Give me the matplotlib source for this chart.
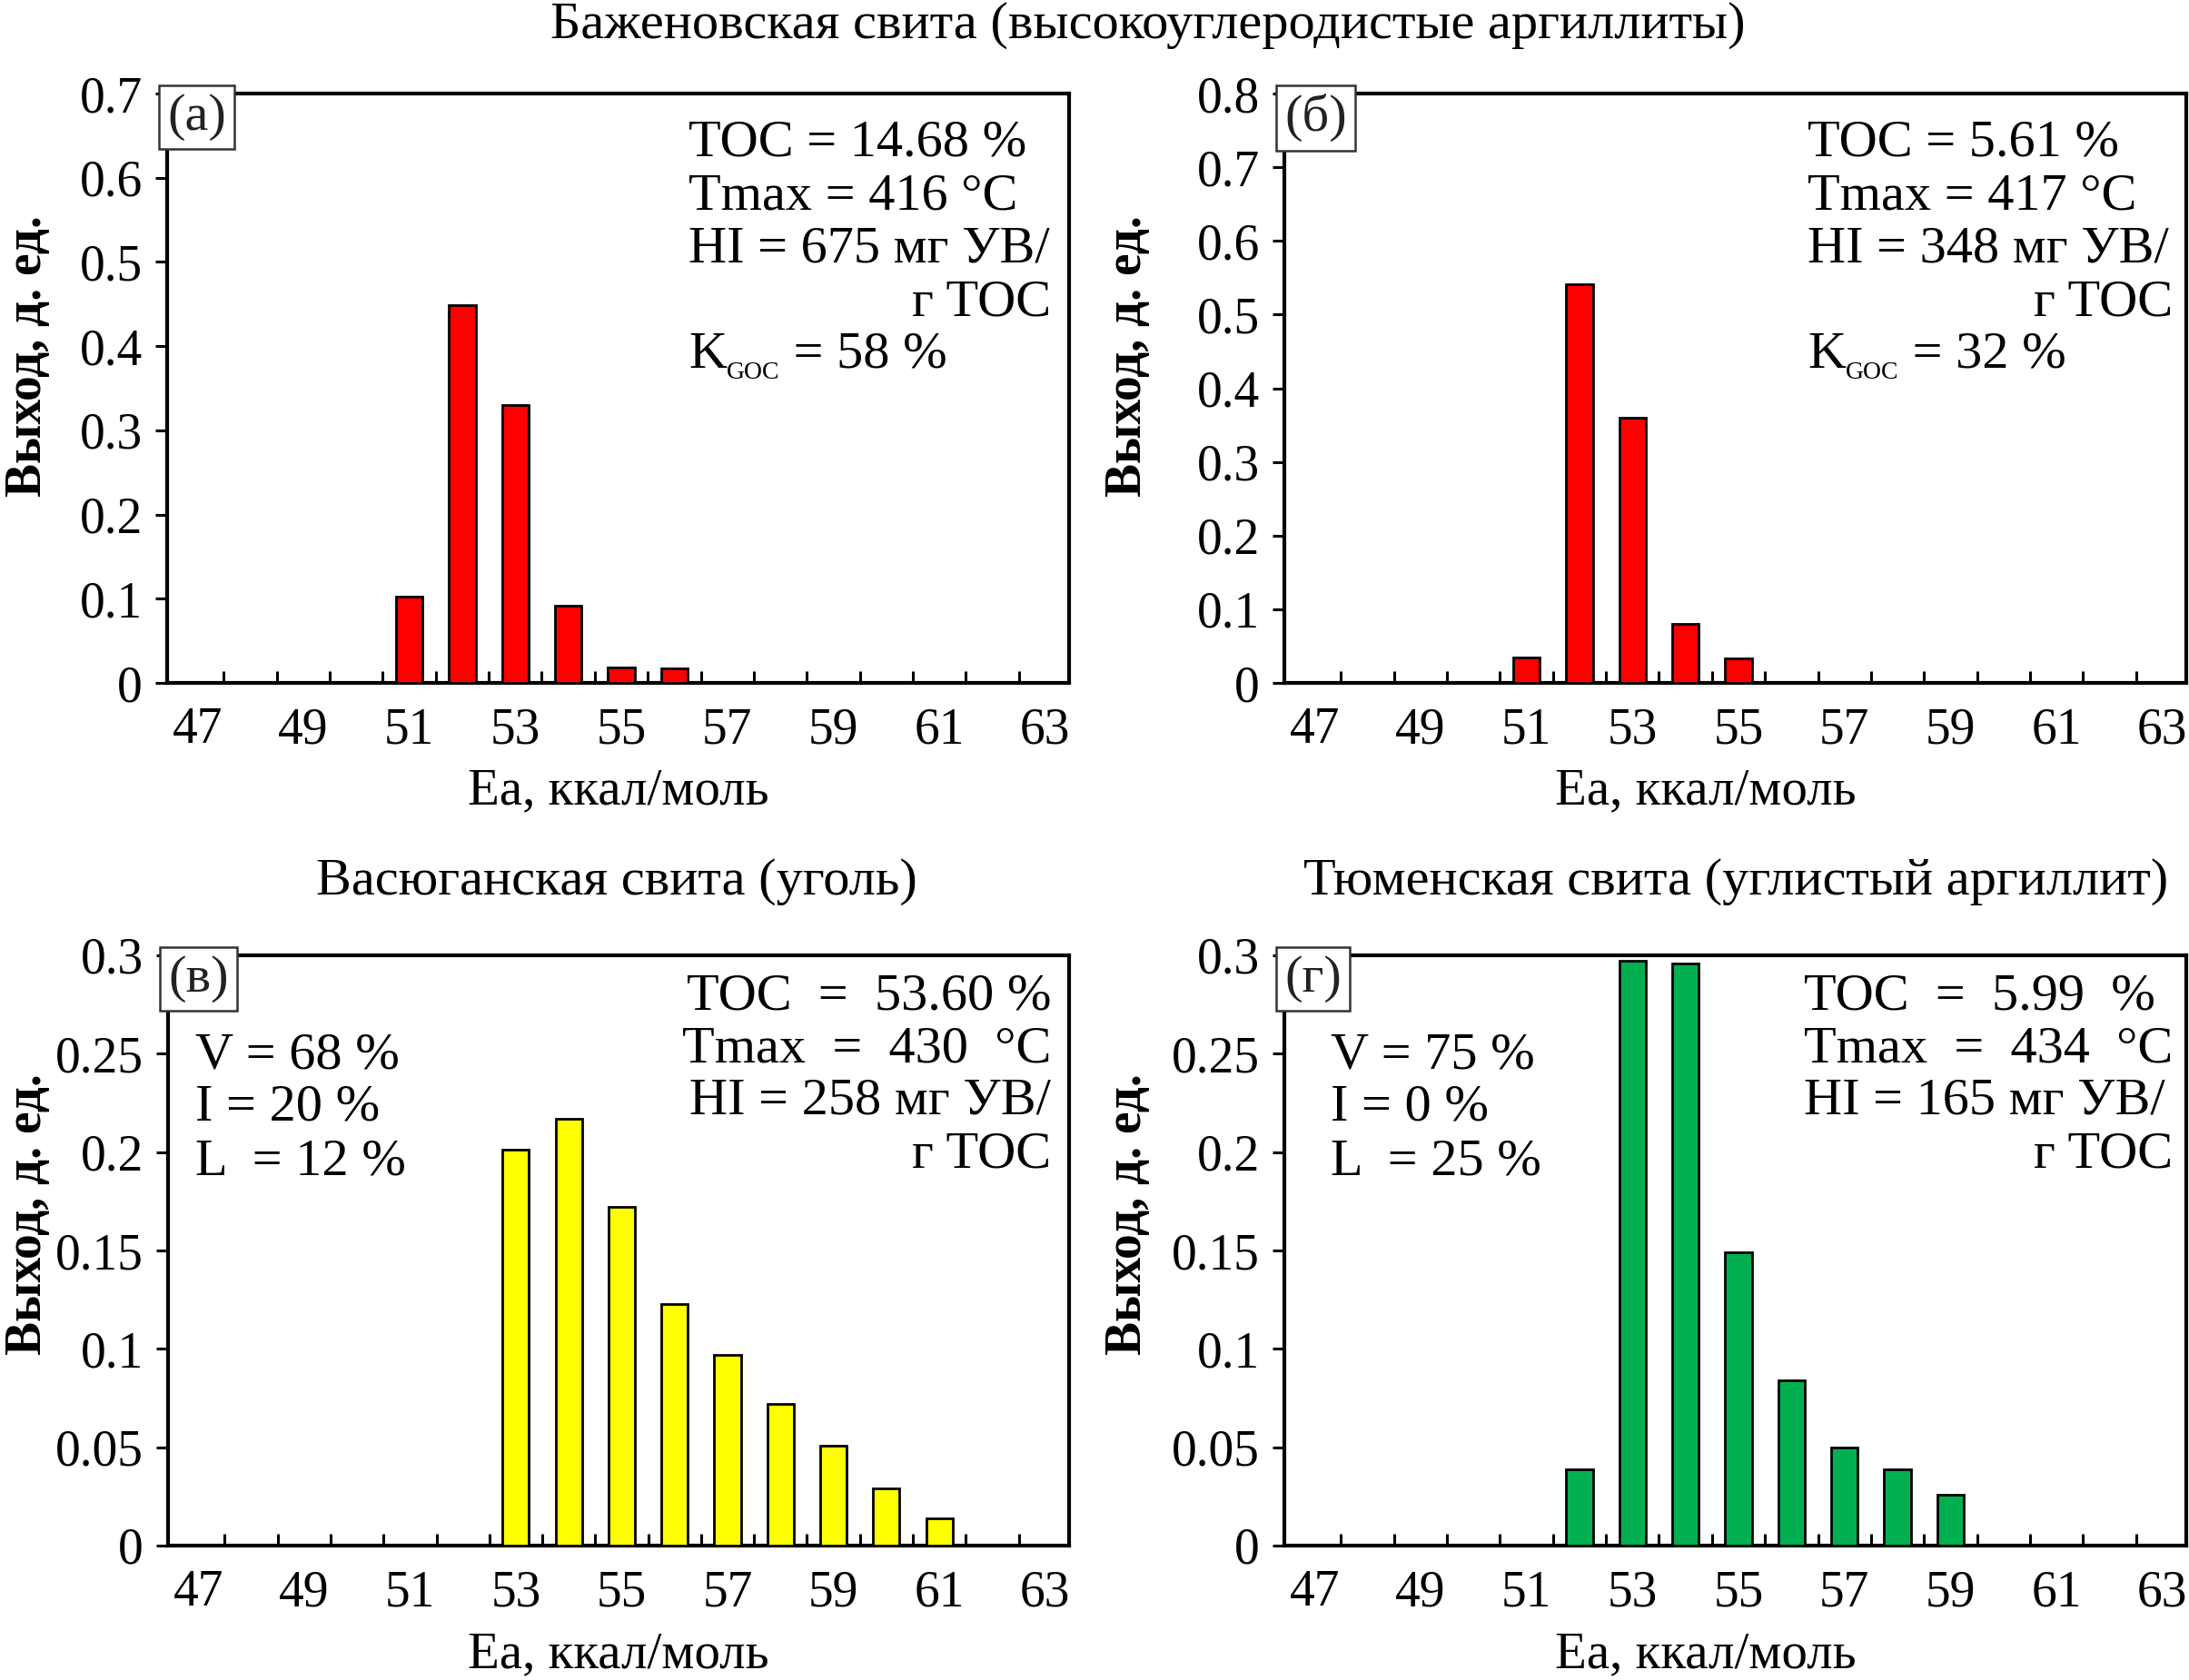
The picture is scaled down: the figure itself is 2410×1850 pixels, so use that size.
import matplotlib
matplotlib.use("Agg")
import matplotlib.pyplot as plt
from matplotlib.ticker import FixedLocator, FuncFormatter

plt.rcParams['font.family'] = ['Liberation Serif', 'DejaVu Serif']

# ---------------- data ----------------
ea_a = [51, 52, 53, 54, 55, 56]
yield_a = [0.103, 0.449, 0.330, 0.092, 0.018, 0.017]

ea_b = [51, 52, 53, 54, 55]
yield_b = [0.034, 0.541, 0.360, 0.080, 0.033]

ea_c = [53, 54, 55, 56, 57, 58, 59, 60, 61]
yield_c = [0.201, 0.217, 0.172, 0.123, 0.097, 0.072, 0.051, 0.029, 0.014]

ea_d = [52, 53, 54, 55, 56, 57, 58, 59]
yield_d = [0.039, 0.297, 0.296, 0.149, 0.084, 0.050, 0.039, 0.026]

xtick_labels = [47, 49, 51, 53, 55, 57, 59, 61, 63]
yticks_ab = [[0, 0.1, 0.2, 0.3, 0.4, 0.5, 0.6, 0.7],
             [0, 0.1, 0.2, 0.3, 0.4, 0.5, 0.6, 0.7, 0.8]]
yticks_cd = [0, 0.05, 0.1, 0.15, 0.2, 0.25, 0.3]

title_top = "Баженовская свита (высокоуглеродистые аргиллиты)"
title_c = "Васюганская свита (уголь)"
title_d = "Тюменская свита (углистый аргиллит)"
xlabel = "Ea, ккал/моль"
ylabel = "Выход, д. ед."

W, H = 2410, 1850
fig = plt.figure(figsize=(W / 100, H / 100), dpi=100)

def fx(px):
    return px / W

def fy(py):
    return 1 - py / H

FS = 40      # tick labels
FT = 42      # annotations / titles

def make_ax(x0, x1, ytop, ybot):
    ax = fig.add_axes([fx(x0), fy(ybot), fx(x1) - fx(x0), fy(ytop) - fy(ybot)])
    for s in ax.spines.values():
        s.set_linewidth(3.0)
    return ax

def style_ax(ax, yt, ymax):
    ax.set_xlim(46.43, 63.45)
    ax.set_ylim(0, ymax)
    ax.xaxis.set_major_locator(FixedLocator(xtick_labels))
    ax.xaxis.set_minor_locator(FixedLocator([v + 0.5 for v in range(47, 63)]))
    ax.set_xticklabels([str(v) for v in xtick_labels])
    ax.tick_params(axis='x', which='major', length=0, pad=19, labelsize=FS)
    ax.tick_params(axis='x', which='minor', direction='in', length=9.5, width=2.2)
    ax.yaxis.set_major_locator(FixedLocator(yt))
    ax.yaxis.set_major_formatter(FuncFormatter(lambda v, p: "%g" % v))
    ax.tick_params(axis='y', which='major', direction='out', length=9.5, width=2.2,
                   pad=10, labelsize=FS)

def bars(ax, x, y, color):
    ax.bar(x, y, width=0.5, color=color, edgecolor='black', linewidth=2.0, zorder=3)

def panel_label(ax, s):
    ax.text(0.0, 1.0, s, transform=ax.transAxes, ha='left', va='top', fontsize=FT,
            color='#222222',
            bbox=dict(boxstyle='square,pad=0.16', fc='white', ec='#333333', lw=1.8),
            zorder=5)

def info_block(ax, x_left, x_right, lines_y, toc, tmax, hi, kgoc=None, justify=False):
    if justify:
        ax.text(x_right, lines_y[0], toc, transform=ax.transAxes, fontsize=FT,
                va='baseline', ha='right')
        ax.text(x_right, lines_y[1], tmax, transform=ax.transAxes, fontsize=FT,
                va='baseline', ha='right')
    else:
        ax.text(x_left, lines_y[0], toc, transform=ax.transAxes, fontsize=FT, va='baseline')
        ax.text(x_left, lines_y[1], tmax, transform=ax.transAxes, fontsize=FT, va='baseline')
    ax.text(x_left, lines_y[2], hi, transform=ax.transAxes, fontsize=FT, va='baseline')
    ax.text(x_right, lines_y[3], "г TOC", transform=ax.transAxes, fontsize=FT,
            va='baseline', ha='right')
    if kgoc is not None:
        k = ax.text(x_left, lines_y[4], "K", transform=ax.transAxes, fontsize=FT, va='baseline')
        sub = ax.annotate("GOC", xy=(1, 0), xycoords=k, fontsize=20, va='bottom', ha='left',
                          xytext=(0, -4), textcoords='offset points')
        ax.annotate(" = %s" % kgoc, xy=(1, 0), xycoords=(sub, k), fontsize=FT,
                    va='bottom', ha='left')

def vil_block(ax, x_left, lines_y, lines):
    for yy, s in zip(lines_y, lines):
        ax.text(x_left, yy, s, transform=ax.transAxes, fontsize=FT, va='baseline')

# ---------------- panel a ----------------
ax_a = make_ax(184, 1177, 103, 752)
bars(ax_a, ea_a, yield_a, '#FF0000')
style_ax(ax_a, yticks_ab[0], 0.7)
panel_label(ax_a, "(а)")
ab_lines = [0.8937, 0.8043, 0.7149, 0.6225, 0.5347]
info_block(ax_a, 0.578, 0.980, ab_lines, "TOC = 14.68 %", "Tmax = 416 °C",
           "HI = 675 мг УВ/", "58 %")

# ---------------- panel b ----------------
ax_b = make_ax(1414, 2407, 103, 752)
bars(ax_b, ea_b, yield_b, '#FF0000')
style_ax(ax_b, yticks_ab[1], 0.8)
panel_label(ax_b, "(б)")
info_block(ax_b, 0.580, 0.985, ab_lines, "TOC = 5.61 %", "Tmax = 417 °C",
           "HI = 348 мг УВ/", "32 %")

# ---------------- panel c ----------------
ax_c = make_ax(185, 1177, 1052, 1702)
bars(ax_c, ea_c, yield_c, '#FFFF00')
style_ax(ax_c, yticks_cd, 0.3)
panel_label(ax_c, "(в)")
cd_lines = [0.909, 0.820, 0.731, 0.640]
info_block(ax_c, 0.579, 0.980, cd_lines, "TOC  =  53.60 %", "Tmax  =  430  °C",
           "HI = 258 мг УВ/", justify=True)
vil_block(ax_c, 0.030, [0.809, 0.720, 0.629], ["V = 68 %", "I = 20 %", "L  = 12 %"])

# ---------------- panel d ----------------
ax_d = make_ax(1414, 2407, 1052, 1702)
bars(ax_d, ea_d, yield_d, '#00B050')
style_ax(ax_d, yticks_cd, 0.3)
panel_label(ax_d, "(г)")
info_block(ax_d, 0.576, 0.985, cd_lines, "TOC  =  5.99  %", "Tmax  =  434  °C",
           "HI = 165 мг УВ/")
vil_block(ax_d, 0.051, [0.809, 0.720, 0.629], ["V = 75 %", "I = 0 %", "L  = 25 %"])

# ---------------- titles and labels ----------------
fig.text(fx(1264), fy(28), title_top, ha='center', va='center', fontsize=FT)
fig.text(fx(679), fy(971), title_c, ha='center', va='center', fontsize=FT)
fig.text(fx(1911), fy(971), title_d, ha='center', va='center', fontsize=FT)

for xc, yc in [(681, 871), (1878, 871), (681, 1822), (1878, 1822)]:
    fig.text(fx(xc), fy(yc), xlabel, ha='center', va='center', fontsize=41)

for xc, yc in [(31, 392), (1242, 392), (31, 1337), (1242, 1337)]:
    fig.text(fx(xc), fy(yc), ylabel, ha='center', va='center', fontsize=40,
             fontweight='bold', rotation=90)

fig.savefig("out.png", dpi=100)
